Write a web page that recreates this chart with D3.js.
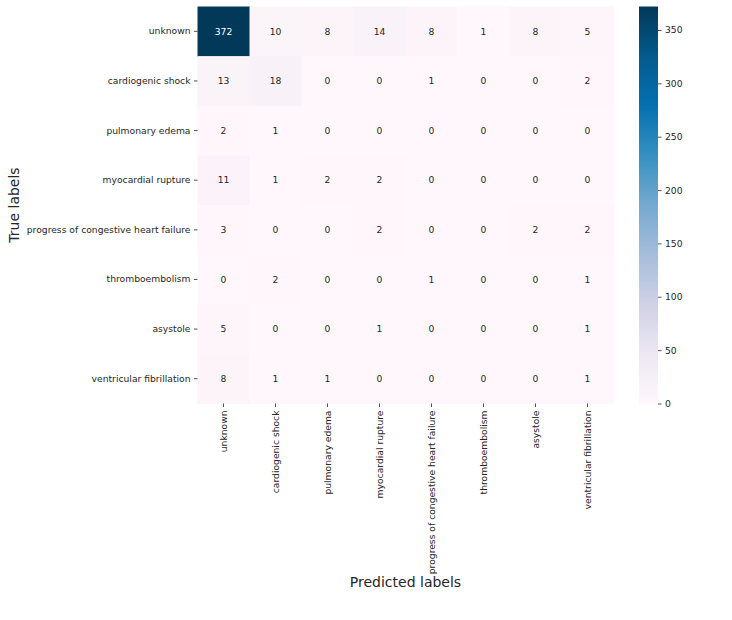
<!DOCTYPE html>
<html><head><meta charset="utf-8">
<script src="https://cdn.jsdelivr.net/npm/d3@7"></script>
<style>body{margin:0;background:#fff;} svg{font-family:"DejaVu Sans",sans-serif;}</style>
</head><body>
<svg id="chart" width="732" height="620"></svg>
<script>
const categories = ["unknown","cardiogenic shock","pulmonary edema","myocardial rupture","progress of congestive heart failure","thromboembolism","asystole","ventricular fibrillation"];
const row_unknown = [372,10,8,14,8,1,8,5];
const row_cardiogenic = [13,18,0,0,1,0,0,2];
const row_pulmonary = [2,1,0,0,0,0,0,0];
const row_myocardial = [11,1,2,2,0,0,0,0];
const row_progress = [3,0,0,2,0,0,2,2];
const row_thrombo = [0,2,0,0,1,0,0,1];
const row_asystole = [5,0,0,1,0,0,0,1];
const row_vfib = [8,1,1,0,0,0,0,1];
const matrix = [row_unknown,row_cardiogenic,row_pulmonary,row_myocardial,row_progress,row_thrombo,row_asystole,row_vfib];
const colorbarTicks = [0,50,100,150,200,250,300,350];

const svg = d3.select("#chart");
const L = 197.5, T = 6.5, W = 416, H = 397;
const FS = 9.2;
const vmax = d3.max(matrix.flat());
const pubu = ["#fff7fb","#ece7f2","#d0d1e6","#a6bddb","#74a9cf","#3690c0","#0570b0","#045a8d","#023858"];
const color = d3.scaleLinear().domain(pubu.map((_, i) => i / (pubu.length - 1) * vmax)).range(pubu).clamp(true);

const x = d3.scaleBand().domain(categories).range([L, L + W]);
const y = d3.scaleBand().domain(categories).range([T, T + H]);

const cells = [];
matrix.forEach((row, i) => row.forEach((v, j) => cells.push({r: categories[i], c: categories[j], v})));

svg.append("g").selectAll("rect").data(cells).join("rect")
  .attr("x", d => x(d.c)).attr("y", d => y(d.r))
  .attr("width", x.bandwidth() + 0.5).attr("height", y.bandwidth() + 0.5)
  .attr("fill", d => color(d.v));

svg.append("g").selectAll("text").data(cells).join("text")
  .attr("x", d => x(d.c) + x.bandwidth() / 2)
  .attr("y", d => y(d.r) + y.bandwidth() / 2)
  .attr("dy", "0.35em").attr("text-anchor", "middle")
  .attr("font-size", FS)
  .attr("fill", d => d.v > vmax * 0.6 ? "#ffffff" : "#262626")
  .text(d => d.v);

// axes
const xAxis = svg.append("g").attr("transform", `translate(0,${T + H})`)
  .call(d3.axisBottom(x).tickSize(3.5).tickPadding(3.5));
xAxis.select(".domain").remove();
xAxis.selectAll(".tick line").attr("stroke", "#262626").attr("stroke-width", 0.8);
xAxis.selectAll(".tick text")
  .attr("font-size", FS).attr("fill", "#262626")
  .attr("font-family", "DejaVu Sans")
  .attr("transform", "rotate(-90)")
  .attr("text-anchor", "end").attr("x", -7).attr("y", 0).attr("dy", "0.35em");

const yAxis = svg.append("g").attr("transform", `translate(${L},0)`)
  .call(d3.axisLeft(y).tickSize(3.5).tickPadding(3.5));
yAxis.select(".domain").remove();
yAxis.selectAll(".tick line").attr("stroke", "#262626").attr("stroke-width", 0.8);
yAxis.selectAll(".tick text").attr("font-size", FS).attr("fill", "#262626").attr("font-family", "DejaVu Sans");

svg.append("text").attr("x", L + W / 2).attr("y", 587)
  .attr("text-anchor", "middle").attr("font-size", 14).attr("fill", "#262626")
  .text("Predicted labels");
svg.append("text").attr("transform", `translate(19,${T + H / 2}) rotate(-90)`)
  .attr("text-anchor", "middle").attr("font-size", 14).attr("fill", "#262626")
  .text("True labels");

// colorbar
const cbX = 639, cbW = 19;
const cbScale = d3.scaleLinear().domain([0, vmax]).range([T + H, T]);
const defs = svg.append("defs");
const grad = defs.append("linearGradient").attr("id", "cbgrad")
  .attr("x1", 0).attr("y1", 1).attr("x2", 0).attr("y2", 0);
d3.range(0, 1.0001, 0.02).forEach(t => {
  grad.append("stop").attr("offset", t).attr("stop-color", color(t * vmax));
});
svg.append("rect").attr("x", cbX).attr("y", T).attr("width", cbW).attr("height", H)
  .attr("fill", "url(#cbgrad)");
const cbAxis = svg.append("g").attr("transform", `translate(${cbX + cbW},0)`)
  .call(d3.axisRight(cbScale).tickValues(colorbarTicks).tickSize(3.5).tickPadding(3.5));
cbAxis.select(".domain").remove();
cbAxis.selectAll(".tick line").attr("stroke", "#262626").attr("stroke-width", 0.8);
cbAxis.selectAll(".tick text").attr("font-size", FS).attr("fill", "#262626").attr("font-family", "DejaVu Sans");
</script>
</body></html>
